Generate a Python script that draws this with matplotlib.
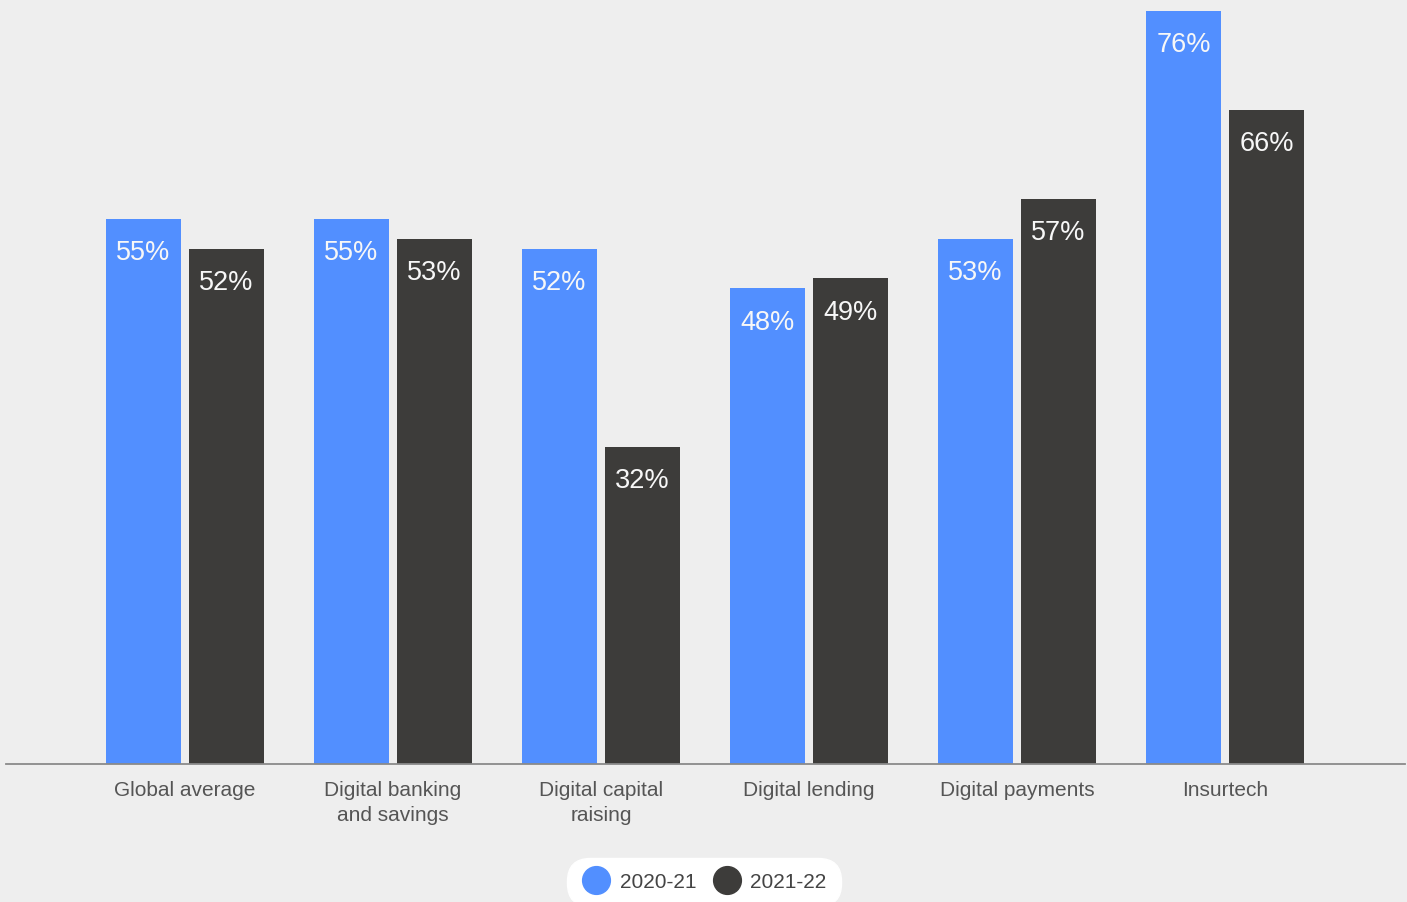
import numpy as np
import matplotlib.pyplot as plt
from matplotlib.lines import Line2D

categories = ["Global average", "Digital banking\nand savings", "Digital capital\nraising",
              "Digital lending", "Digital payments", "Insurtech"]
series_names = ["2020-21", "2021-22"]
share_2020_21 = [55, 55, 52, 48, 53, 76]
share_2021_22 = [52, 53, 32, 49, 57, 66]

BLUE = "#528fff"
DARK = "#3d3c3a"
BG = "#eeeeee"

plt.rcParams['font.family'] = ['Liberation Sans', 'DejaVu Sans']

fig = plt.figure(figsize=(14.07, 9.02), dpi=100, facecolor=BG)
ax = fig.add_axes([0, 0, 1, 1])
ax.set_facecolor(BG)

x = np.arange(len(categories))
w = 75 / 208
off = 41.5 / 208

b1 = ax.bar(x - off, share_2020_21, w, color=BLUE, zorder=2)
b2 = ax.bar(x + off, share_2021_22, w, color=DARK, zorder=2)

# value labels sit just inside the top of each bar
for bars, vals in ((b1, share_2020_21), (b2, share_2021_22)):
    for rect, v in zip(bars, vals):
        ax.text(rect.get_x() + rect.get_width() / 2, v - 3.45, f"{v}%",
                ha="center", va="center", color="#f7f7f7", fontsize=19.5, zorder=3)

# scale: 0 at the baseline, ~9.91 px per percent
ax.set_xlim(-185 / 208, (1407 - 185) / 208)
ax.set_ylim(-138 / 9.91, 764 / 9.91)
ax.axis("off")
ax.axhline(0, xmin=6 / 1407, xmax=1405 / 1407, color="#8a8a8a", lw=1.3, zorder=3)

for xi, name in zip(x, categories):
    ax.text(xi, -1.75, name, ha="center", va="top", color="#555555",
            fontsize=15, linespacing=1.4)

handles = [Line2D([], [], marker="o", ls="", markersize=20, color=c) for c in (BLUE, DARK)]
leg = ax.legend(handles, series_names, loc="center", bbox_to_anchor=(704 / 1407, 20 / 902),
                ncol=2, frameon=True, fontsize=15, handletextpad=0.45, columnspacing=0.75,
                borderpad=0.7, handlelength=1.4, labelcolor="#444444")
frame = leg.get_frame()
frame.set_facecolor("white")
frame.set_edgecolor("white")
frame.set_alpha(1)
frame.set_boxstyle("round", pad=0.0, rounding_size=1.1)

fig.savefig("out.png", dpi=100, facecolor=BG)
